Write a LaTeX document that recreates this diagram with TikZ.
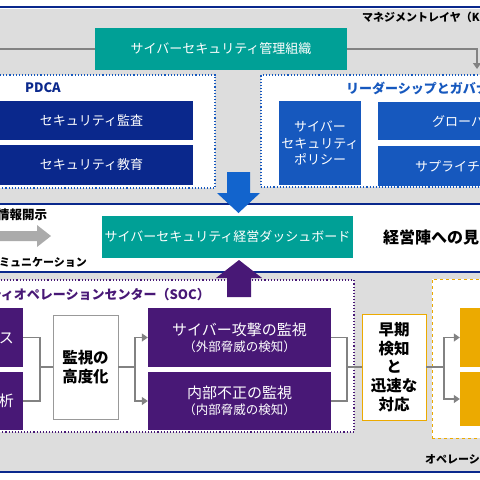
\documentclass[tikz,border=0pt]{standalone}
\usepackage{fontspec}
\setmainfont{Noto Sans CJK JP}
\usepackage{xcolor}
\definecolor{lnavy}{RGB}{10,40,140}
\definecolor{lblue}{RGB}{22,88,190}
\definecolor{larrow}{RGB}{18,100,205}
\definecolor{lteal}{RGB}{0,160,150}
\definecolor{lpurple}{RGB}{72,24,118}
\definecolor{lorange}{RGB}{236,170,0}
\definecolor{lbg}{RGB}{221,221,221}
\definecolor{lline}{RGB}{130,130,130}
\usetikzlibrary{arrows.meta,positioning}
\tikzset{
  fsz/.style={font={\linespread{1.25}\fontsize{#1}{#1}\selectfont}},
  tealbox/.style={fill=lteal, text=white, inner sep=0pt, fsz=13},
  navybox/.style={fill=lnavy, text=white, inner sep=0pt, fsz=13},
  bluebox/.style={fill=lblue, text=white, inner sep=0pt, fsz=13, align=center},
  purplebox/.style={fill=lpurple, text=white, inner sep=0pt, align=center},
  orangebox/.style={fill=lorange, inner sep=0pt},
  dotframe/.style={draw=#1, dotted, line width=1.1pt, fill=white, inner sep=0pt},
  plainbox/.style={draw=#1, line width=0.8pt, fill=white, inner sep=0pt, align=center, font={\linespread{1.2}\fontsize{15.5}{15.5}\selectfont\bfseries}},
  conn/.style={draw=lline, line width=1.2pt},
  tip/.style={-{Triangle[length=6pt,width=8pt]}},
  sepline/.style={draw=lnavy, line width=2.4pt},
  lbl/.style={inner sep=0pt, font={\fontsize{#1}{#1}\selectfont\bfseries}},
}

\begin{document}
\begin{tikzpicture}[x=1pt,y=-1pt]
  \useasboundingbox (0,0) rectangle (480,480);
  \clip (0,0) rectangle (480,480);

  % layer backgrounds
  \fill[lbg] (0,9) rectangle (480,203);
  \fill[lbg] (0,273) rectangle (480,471);
  \draw[sepline] (0,7) -- (480,7);
  \draw[sepline] (0,204) -- (480,204);
  \draw[sepline] (0,272) -- (480,272);
  \draw[sepline] (0,472) -- (480,472);

  % management layer
  \node[lbl=11, anchor=west] (mlayer) at (362,17) {マネジメントレイヤ（K};
  \node[tealbox, minimum width=252pt, minimum height=42pt] (mgmt) at (221,49) {サイバーセキュリティ管理組織};
  \coordinate (ml) at (0,49);
  \coordinate (mr) at (477,49);
  \coordinate (md) at (477,69);
  \draw[conn] (ml) -- (mgmt.west);
  \draw[conn, tip] (mgmt.east) -- (mr) -- (md);

  % PDCA
  \node[dotframe=lblue, minimum width=225pt, minimum height=113pt] (pdca) at (102.5,131.5) {};
  \node[lbl=13, text=lnavy] (pdcat) at (43,88) {PDCA};
  \node[navybox, minimum width=203pt, minimum height=39pt] (audit) at (91.5,120.5) {セキュリティ監査};
  \node[navybox, minimum width=203pt, minimum height=40pt] (edu) at (91.5,165) {セキュリティ教育};

  % leadership and governance
  \node[dotframe=lblue, minimum width=229pt, minimum height=112pt] (lead) at (375.5,131) {};
  \node[lbl=13, text=lblue, anchor=west] (leadt) at (346,88) {リーダーシップとガバナンス};
  \node[bluebox, minimum width=82pt, minimum height=84pt] (policy) at (320,143) {サイバー\\セキュリティ\\ポリシー};
  \node[bluebox, minimum width=112pt, minimum height=38pt] (glob) at (434,121) {};
  \node[text=white, fsz=13, inner sep=0pt, anchor=west] at (432,121) {グローバル};
  \node[bluebox, minimum width=112pt, minimum height=40pt] (supply) at (434,166) {};
  \node[text=white, fsz=13, inner sep=0pt, anchor=west] at (415,166) {サプライチェーン};

  % dashboard band
  \fill[larrow] (227,172) -- (250,172) -- (250,193) -- (260,193) -- (238.5,213)
    -- (217,193) -- (227,193) -- cycle;
  \node[tealbox, minimum width=251pt, minimum height=42pt] (dash) at (227.5,237) {サイバーセキュリティ経営ダッシュボード};
  \node[lbl=12.5, anchor=west] (disc) at (-3,215) {情報開示};
  \fill[black!33] (-5,231) -- (37,231) -- (37,225) -- (51,236) -- (37,247) -- (37,241) -- (-5,241) -- cycle;
  \node[lbl=11, anchor=east] (comm) at (87,262) {コミュニケーション};
  \node[lbl=16, anchor=west] (vis) at (383,237) {経営陣への見える化};

  % SOC
  \node[dotframe=lpurple, minimum width=364pt, minimum height=152pt] (soc) at (172,356) {};
  \fill[lpurple] (239,260) -- (262,278) -- (251,278) -- (251,297) -- (227,297) -- (227,278) -- (216,278) -- cycle;
  \node[lbl=13, text=lpurple, anchor=east] (soct) at (210,295) {サイバーセキュリティオペレーションセンター（SOC）};
  \node[purplebox, minimum width=33pt, minimum height=59pt] (lb1) at (6.5,337.5) {};
  \node[text=white, fsz=15, inner sep=0pt, anchor=east] at (14,338) {ス};
  \node[purplebox, minimum width=33pt, minimum height=58pt] (lb2) at (6.5,401) {};
  \node[text=white, fsz=15, inner sep=0pt, anchor=east] at (14,401) {析};
  \node[plainbox=black!40, minimum width=65pt, minimum height=104pt] (adv) at (85.5,367) {監視の\\高度化};
  \node[purplebox, minimum width=183pt, minimum height=59pt] (ext) at (239.5,337.5)
    {{\fontsize{15}{19}\selectfont サイバー攻撃の監視}\\[4pt]{\fontsize{12.5}{14}\selectfont （外部脅威の検知）}};
  \node[purplebox, minimum width=183pt, minimum height=58pt] (int) at (239.5,401)
    {{\fontsize{15}{19}\selectfont 内部不正の監視}\\[4pt]{\fontsize{12.5}{14}\selectfont （内部脅威の検知）}};
  \coordinate (jl) at (40,367);
  \coordinate (jm) at (135,367);
  \coordinate (jr) at (347,367);
  \draw[conn] (lb1.east) -| (jl);
  \draw[conn] (lb2.east) -| (jl);
  \draw[conn] (jl) -- (adv.west);
  \draw[conn] (adv.east) -- (jm);
  \draw[conn, tip] (jm) |- (ext.west);
  \draw[conn, tip] (jm) |- (int.west);

  % operation layer
  \node[draw=lorange, dashed, line width=1pt, fill=white, minimum width=58pt, minimum height=159pt, inner sep=0pt] (opbox) at (461,358.5) {};
  \node[orangebox, minimum width=30pt, minimum height=59pt] (ob1) at (475,337.5) {};
  \node[orangebox, minimum width=30pt, minimum height=54pt] (ob2) at (475,399) {};
  \node[plainbox=lorange, minimum width=64pt, minimum height=106pt] (quick) at (394,367) {早期\\検知\\と\\迅速な\\対応};
  \coordinate (jo) at (444,367);
  \draw[conn] (ext.east) -| (jr);
  \draw[conn] (int.east) -| (jr);
  \draw[conn] (jr) -- (quick.west);
  \draw[conn] (quick.east) -- (jo);
  \draw[conn, tip] (jo) |- (ob1.west);
  \draw[conn, tip] (jo) |- (ob2.west);
  \node[lbl=11, anchor=west] (olayer) at (425,459) {オペレーションレイヤ};
\end{tikzpicture}
\end{document}
